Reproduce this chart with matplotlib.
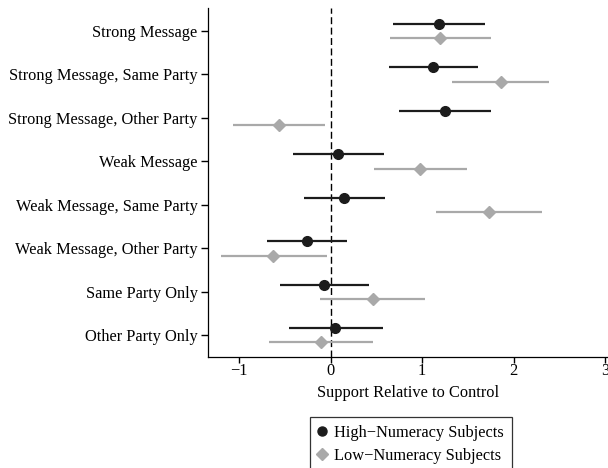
import numpy as np
import matplotlib.pyplot as plt
from matplotlib.lines import Line2D

plt.rcParams['font.family'] = ['Liberation Serif', 'DejaVu Serif']

conditions = ["Strong Message", "Strong Message, Same Party", "Strong Message, Other Party",
              "Weak Message", "Weak Message, Same Party", "Weak Message, Other Party",
              "Same Party Only", "Other Party Only"]

# high-numeracy estimates and 95% intervals
high_est = [1.18, 1.12, 1.25, 0.08, 0.15, -0.26, -0.07, 0.05]
high_lo = [0.68, 0.64, 0.75, -0.41, -0.29, -0.69, -0.55, -0.46]
high_hi = [1.69, 1.61, 1.75, 0.58, 0.59, 0.18, 0.42, 0.57]

# low-numeracy estimates and 95% intervals
low_est = [1.19, 1.86, -0.56, 0.98, 1.73, -0.63, 0.46, -0.11]
low_lo = [0.65, 1.33, -1.07, 0.47, 1.15, -1.20, -0.12, -0.67]
low_hi = [1.75, 2.39, -0.06, 1.49, 2.31, -0.04, 1.03, 0.46]

black = "#1c1c1c"
grey = "#a9a9a9"
fs = 11.8

fig = plt.figure(figsize=(6.08, 4.68), dpi=100)
ax = fig.add_axes([208/608, 1-357/468, 1-208/608, (357-8)/468])

rows = np.arange(len(conditions))
off = 0.165

ax.hlines(rows - off, high_lo, high_hi, color=black, lw=1.6, zorder=3)
ax.plot(high_est, rows - off, 'o', color=black, ms=7, zorder=4)
ax.hlines(rows + off, low_lo, low_hi, color=grey, lw=1.6, zorder=3)
ax.plot(low_est, rows + off, 'D', color=grey, ms=6.5, mec=grey, zorder=4)

ax.axvline(0, color="black", lw=1, ls=(0, (5, 2.5)), zorder=2)

ax.set_ylim(len(conditions) - 0.5, -0.53)
ax.set_xlim(-1.34, 3.03)
ax.set_yticks(rows)
ax.set_yticklabels(conditions)
ax.set_xticks([-1, 0, 1, 2, 3])
ax.set_xticklabels(["\u22121", "0", "1", "2", "3"])
ax.tick_params(axis="both", which="major", labelsize=fs, color="black", width=1.0, direction="out")
ax.tick_params(axis="x", length=4.5, pad=0)
ax.tick_params(axis="y", length=5, pad=2.5)
ax.set_xlabel("Support Relative to Control", fontsize=fs, labelpad=4)

for s in ["top", "right"]:
    ax.spines[s].set_visible(False)
for s in ["left", "bottom"]:
    ax.spines[s].set_linewidth(0.9)

handles = [Line2D([], [], marker='o', color=black, ls='none', ms=6.5),
           Line2D([], [], marker='D', color=grey, ls='none', ms=6)]
leg = fig.legend(handles, ["High\u2212Numeracy Subjects", "Low\u2212Numeracy Subjects"],
                 loc="upper center", bbox_to_anchor=(411/608, 1-417/468),
                 fontsize=fs, frameon=True, fancybox=False, edgecolor="black",
                 handletextpad=0.5, handlelength=0.5, borderpad=0.5, labelspacing=0.4,
                 borderaxespad=0)
leg.get_frame().set_linewidth(0.9)

fig.savefig("out.png", dpi=100)
